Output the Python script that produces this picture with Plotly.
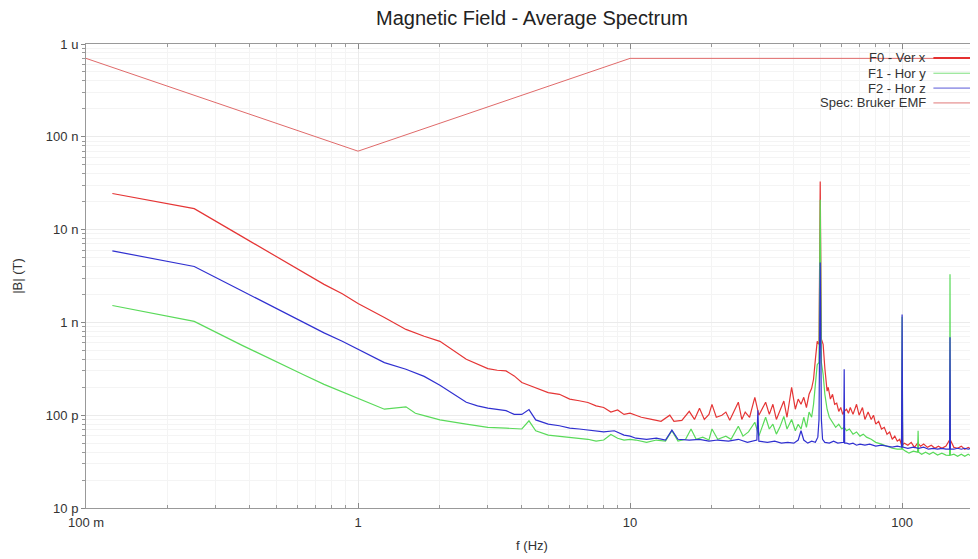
import plotly.graph_objects as go

# ---- readings from the spectrum (frequency in Hz, |B| in pT) ----
f0_freq = [0.125, 0.25, 0.375, 0.5, 0.625, 0.75, 0.875, 1.0,
           1.25, 1.5, 1.75, 2, 2.5, 3, 3.25, 3.5, 3.75, 4, 4.25, 4.5, 5, 5.5, 6, 6.5, 7, 7.5, 8, 8.5, 9, 9.5, 10,
           10.5, 11, 12, 13, 14, 14.5, 15.5, 16.5, 17.25, 18, 18.75, 19.5, 20, 20.75, 21.75, 22.5, 23.25, 25,
           25.75, 26.5, 27.5, 28.75, 29.75, 31.5, 32.5, 33.5, 34.5, 36.75, 37.75, 39.25, 40.5, 41.5, 42.5, 43.5,
           44.5, 45.5, 46.5, 47.25, 48, 48.75, 49.5, 50, 50.5, 51.25, 52, 53, 53.5, 54.5, 55.5, 56.5, 57.5,
           58.5, 59.5, 60.5, 61.25, 62.5, 63.5, 64.5, 66, 68, 69.5, 71.5, 73, 75, 77, 78.5, 80, 82, 84, 86,
           88, 90, 92, 94, 96, 98, 99.5, 100, 100.5, 102, 105, 108, 111, 114, 117, 120, 124, 128, 132, 136,
           140, 145, 150, 155, 160, 165, 170, 175, 180, 185, 190]
f0_pt = [24500, 16800, 8400, 5100, 3500, 2570, 2040, 1600,
         1130, 840, 710, 625, 400, 318, 305, 300, 265, 225, 210, 198, 175, 168, 149, 143, 137, 126, 121, 108, 114, 102, 105,
         100, 95, 90, 86, 100, 86, 88, 110, 90, 119, 90, 102, 131, 95, 100, 108, 88, 138,
         90, 108, 95, 156, 100, 138, 102, 131, 90, 142, 95, 200, 116, 149, 131, 156,
         121, 168, 195, 244, 400, 625, 580, 33000, 660, 580, 320, 182, 200, 149, 168, 131, 135,
         110, 121, 102, 110, 116, 105, 121, 102, 131, 100, 121, 90, 108, 90, 100, 80, 86, 71, 74,
         62.5, 66, 55, 59.5, 52.5, 55, 48, 190, 48, 50, 47.5, 51, 45, 50, 46.4, 48.8, 45, 47.5, 44, 46.4,
         44, 46.4, 55, 45, 44, 46.4, 43, 45, 43, 44, 43]

f1_freq = [0.125, 0.25, 0.375, 0.5, 0.625, 0.75, 0.875, 1.0,
           1.25, 1.5, 1.625, 1.75, 2, 2.5, 3, 3.5, 4, 4.25, 4.5, 5, 5.5, 6, 6.5, 7, 7.5, 8, 8.5, 9, 9.5, 10,
           10.5, 11.5, 12.5, 13.5, 14.25, 15, 16, 16.75, 17.5, 18.5, 19.5, 20, 21, 22.5, 23.5, 25, 26, 27.25,
           28.75, 29.75, 31.5, 32.5, 33.5, 34.5, 35.5, 36.75, 37.75, 39.25, 40.5, 41.5, 42.5, 43.5, 44.5,
           45.5, 46.5, 47.25, 48, 48.75, 49.5, 50, 50.5, 51.25, 52, 53, 54, 55.5, 57, 58.5, 60, 61.25, 62.5,
           64, 66, 68, 70, 72, 74, 77, 80, 84, 88, 92, 96, 99.5, 100, 100.5, 103, 106, 110, 114, 114.5, 115,
           118, 122, 126, 130, 135, 140, 145, 149.5, 150, 150.5, 155, 160, 165, 170, 175, 180, 185, 190]
f1_pt = [1520, 1025, 566, 375, 276, 215, 179, 151,
         116, 123, 105, 99, 89, 80, 74, 72.5, 71, 87, 68, 61, 59.5, 58, 56.5, 55, 52.5, 54, 62, 56.5, 54, 55,
         54, 51, 54, 52.5, 68, 52.5, 55, 71, 55, 58, 54, 71, 55, 59.5, 55, 76, 59.5, 66,
         84, 59.5, 95, 71, 80, 62.5, 74, 97, 71, 90, 68, 80, 71, 95, 74,
         108, 95, 131, 215, 350, 370, 21000, 370, 275, 168, 116, 95, 84, 74, 80, 71, 74, 68,
         71, 62.5, 66, 59.5, 62.5, 58, 55, 51, 48.8, 46.4, 44, 43, 43, 1150, 43, 41, 39, 41, 40, 68, 40,
         38, 40, 38, 40, 37.2, 39, 37.2, 37, 3300, 37, 38, 36, 38, 36, 38, 36, 37, 36]

f2_freq = [0.125, 0.25, 0.375, 0.5, 0.625, 0.75, 0.875, 1.0,
           1.25, 1.5, 1.75, 2, 2.5, 2.75, 3, 3.5, 3.75, 4, 4.25, 4.5, 5, 5.5, 6, 6.5, 7, 8, 8.75, 9.5, 10,
           10.5, 11.5, 12.5, 13.5, 14.25, 15, 16.5, 18, 19.5, 21, 23, 25, 27, 29.25, 29.5, 29.75, 32, 34, 36,
           38, 40, 41.5, 42.5, 43.5, 45, 46.5, 48, 49, 49.5, 50, 50.5, 51, 52, 54, 56, 58, 60, 61, 61.25,
           61.5, 62.5, 64, 66, 68, 70, 73, 76, 80, 84, 88, 92, 96, 99.5, 100, 100.5, 105, 110, 115, 120,
           125, 130, 135, 140, 145, 149.5, 150, 150.5, 155, 160, 165, 170, 175, 180, 184.5, 185, 185.5, 190]
f2_pt = [5900, 4000, 2180, 1415, 1010, 771, 626, 513,
         369, 313, 262, 210, 138, 126, 119, 112, 102, 102, 115, 89, 80, 77, 72.5, 71, 69, 66, 68, 61, 59.5,
         56.5, 55, 56.5, 54, 69, 55, 54, 55, 52.5, 54, 52.5, 55, 51, 54, 113, 52.5, 51, 52.5, 50,
         51, 50, 54, 68, 54, 50, 52.5, 51, 58, 90, 4410, 90, 55, 51, 50, 52.5, 50, 51, 51, 313,
         50, 50, 48.8, 50, 47.5, 48.8, 47.5, 48.8, 46.4, 47.5, 46.4, 45.3, 46.4, 45.3, 1220, 45.3, 44, 45.3, 44, 45.3,
         43, 44, 43, 44, 43, 43, 690, 43, 43, 44, 43, 44, 43, 44, 43, 55, 43, 43]

spec_freq = [0.1, 1, 10, 190]
spec_pt = [700000, 70000, 700000, 700000]

x_ticks = [0.1, 1, 10, 100]
x_labels = ["100 m", "1", "10", "100"]
y_ticks = [1e-11, 1e-10, 1e-9, 1e-8, 1e-7, 1e-6]
y_labels = ["10 p", "100 p", "1 n", "10 n", "100 n", "1 u"]

assert len(f0_freq) == len(f0_pt)
assert len(f1_freq) == len(f1_pt)
assert len(f2_freq) == len(f2_pt)


def tesla(vals):
    return [v * 1e-12 for v in vals]


series = [
    ("Spec: Bruker EMF", spec_freq, spec_pt, "#e06a6a", 1),
    ("F0 - Ver x", f0_freq, f0_pt, "#e53535", 1.2),
    ("F1 - Hor y", f1_freq, f1_pt, "#5ada5a", 1.2),
    ("F2 - Hor z", f2_freq, f2_pt, "#3030d0", 1.2),
]

fig = go.Figure()
for name, fx, fy, col, w in series:
    fig.add_trace(go.Scatter(x=fx, y=tesla(fy), mode="lines", name=name,
                             line=dict(color=col, width=w), showlegend=False))

# minor ticks at 2..9 of every decade
x_minor = [m * 10 ** e for e in range(-1, 3) for m in range(2, 10)]
y_minor = [m * 10 ** e for e in range(-11, -6) for m in range(2, 10)]

fig.update_xaxes(
    type="log", range=[-1, 2.279],
    tickmode="array", tickvals=x_ticks, ticktext=x_labels,
    ticks="inside", ticklen=5, tickcolor="#888",
    showline=True, linecolor="#999", linewidth=1, mirror="ticks",
    showgrid=True, gridcolor="#ebebeb", zeroline=False,
    minor=dict(tickvals=x_minor, ticks="inside", ticklen=3, tickcolor="#999",
               showgrid=True, gridcolor="#f4f4f4"),
    ticklabelstandoff=2,
    title=dict(text="f (Hz)", standoff=12, font=dict(size=13)),
)
fig.update_yaxes(
    type="log", range=[-11, -6],
    tickmode="array", tickvals=y_ticks, ticktext=y_labels,
    ticks="outside", ticklen=4, tickcolor="#888",
    showline=True, linecolor="#999", linewidth=1, mirror=False,
    showgrid=True, gridcolor="#ebebeb", zeroline=False,
    minor=dict(tickvals=y_minor, ticks="outside", ticklen=3, tickcolor="#999",
               showgrid=True, gridcolor="#f4f4f4"),
    title=dict(text="|B| (T)", standoff=20, font=dict(size=13)),
)

# legend drawn as right-aligned text with the line sample on the right
legend_rows = [("F0 - Ver x", "#e53030", 2, 0.970),
               ("F1 - Hor y", "#7de07d", 1, 0.937),
               ("F2 - Hor z", "#5a5ad8", 1, 0.905),
               ("Spec: Bruker EMF", "#e07878", 1, 0.873)]
for label, col, w, yy in legend_rows:
    fig.add_annotation(x=0.944, y=yy, xref="paper", yref="paper", text=label,
                       showarrow=False, xanchor="right", yanchor="middle",
                       font=dict(size=13, color="#333"))
    fig.add_shape(type="line", xref="paper", yref="paper", x0=0.950, x1=0.994,
                  y0=yy, y1=yy, line=dict(color=col, width=w))

# the page body has an 8 px margin, so the figure is sized to fit inside it
fig.update_layout(
    width=970, height=551,
    margin=dict(l=78, r=0, t=36, b=51),
    paper_bgcolor="white", plot_bgcolor="white",
    font=dict(family="Liberation Sans, Arial, sans-serif", size=13, color="#333"),
    title=dict(text="Magnetic Field - Average Spectrum", x=0.5, xref="paper", xanchor="center",
               y=0.982, yref="container", yanchor="middle",
               font=dict(size=20, color="#222")),
    showlegend=False,
)

fig.write_html("out.html")
